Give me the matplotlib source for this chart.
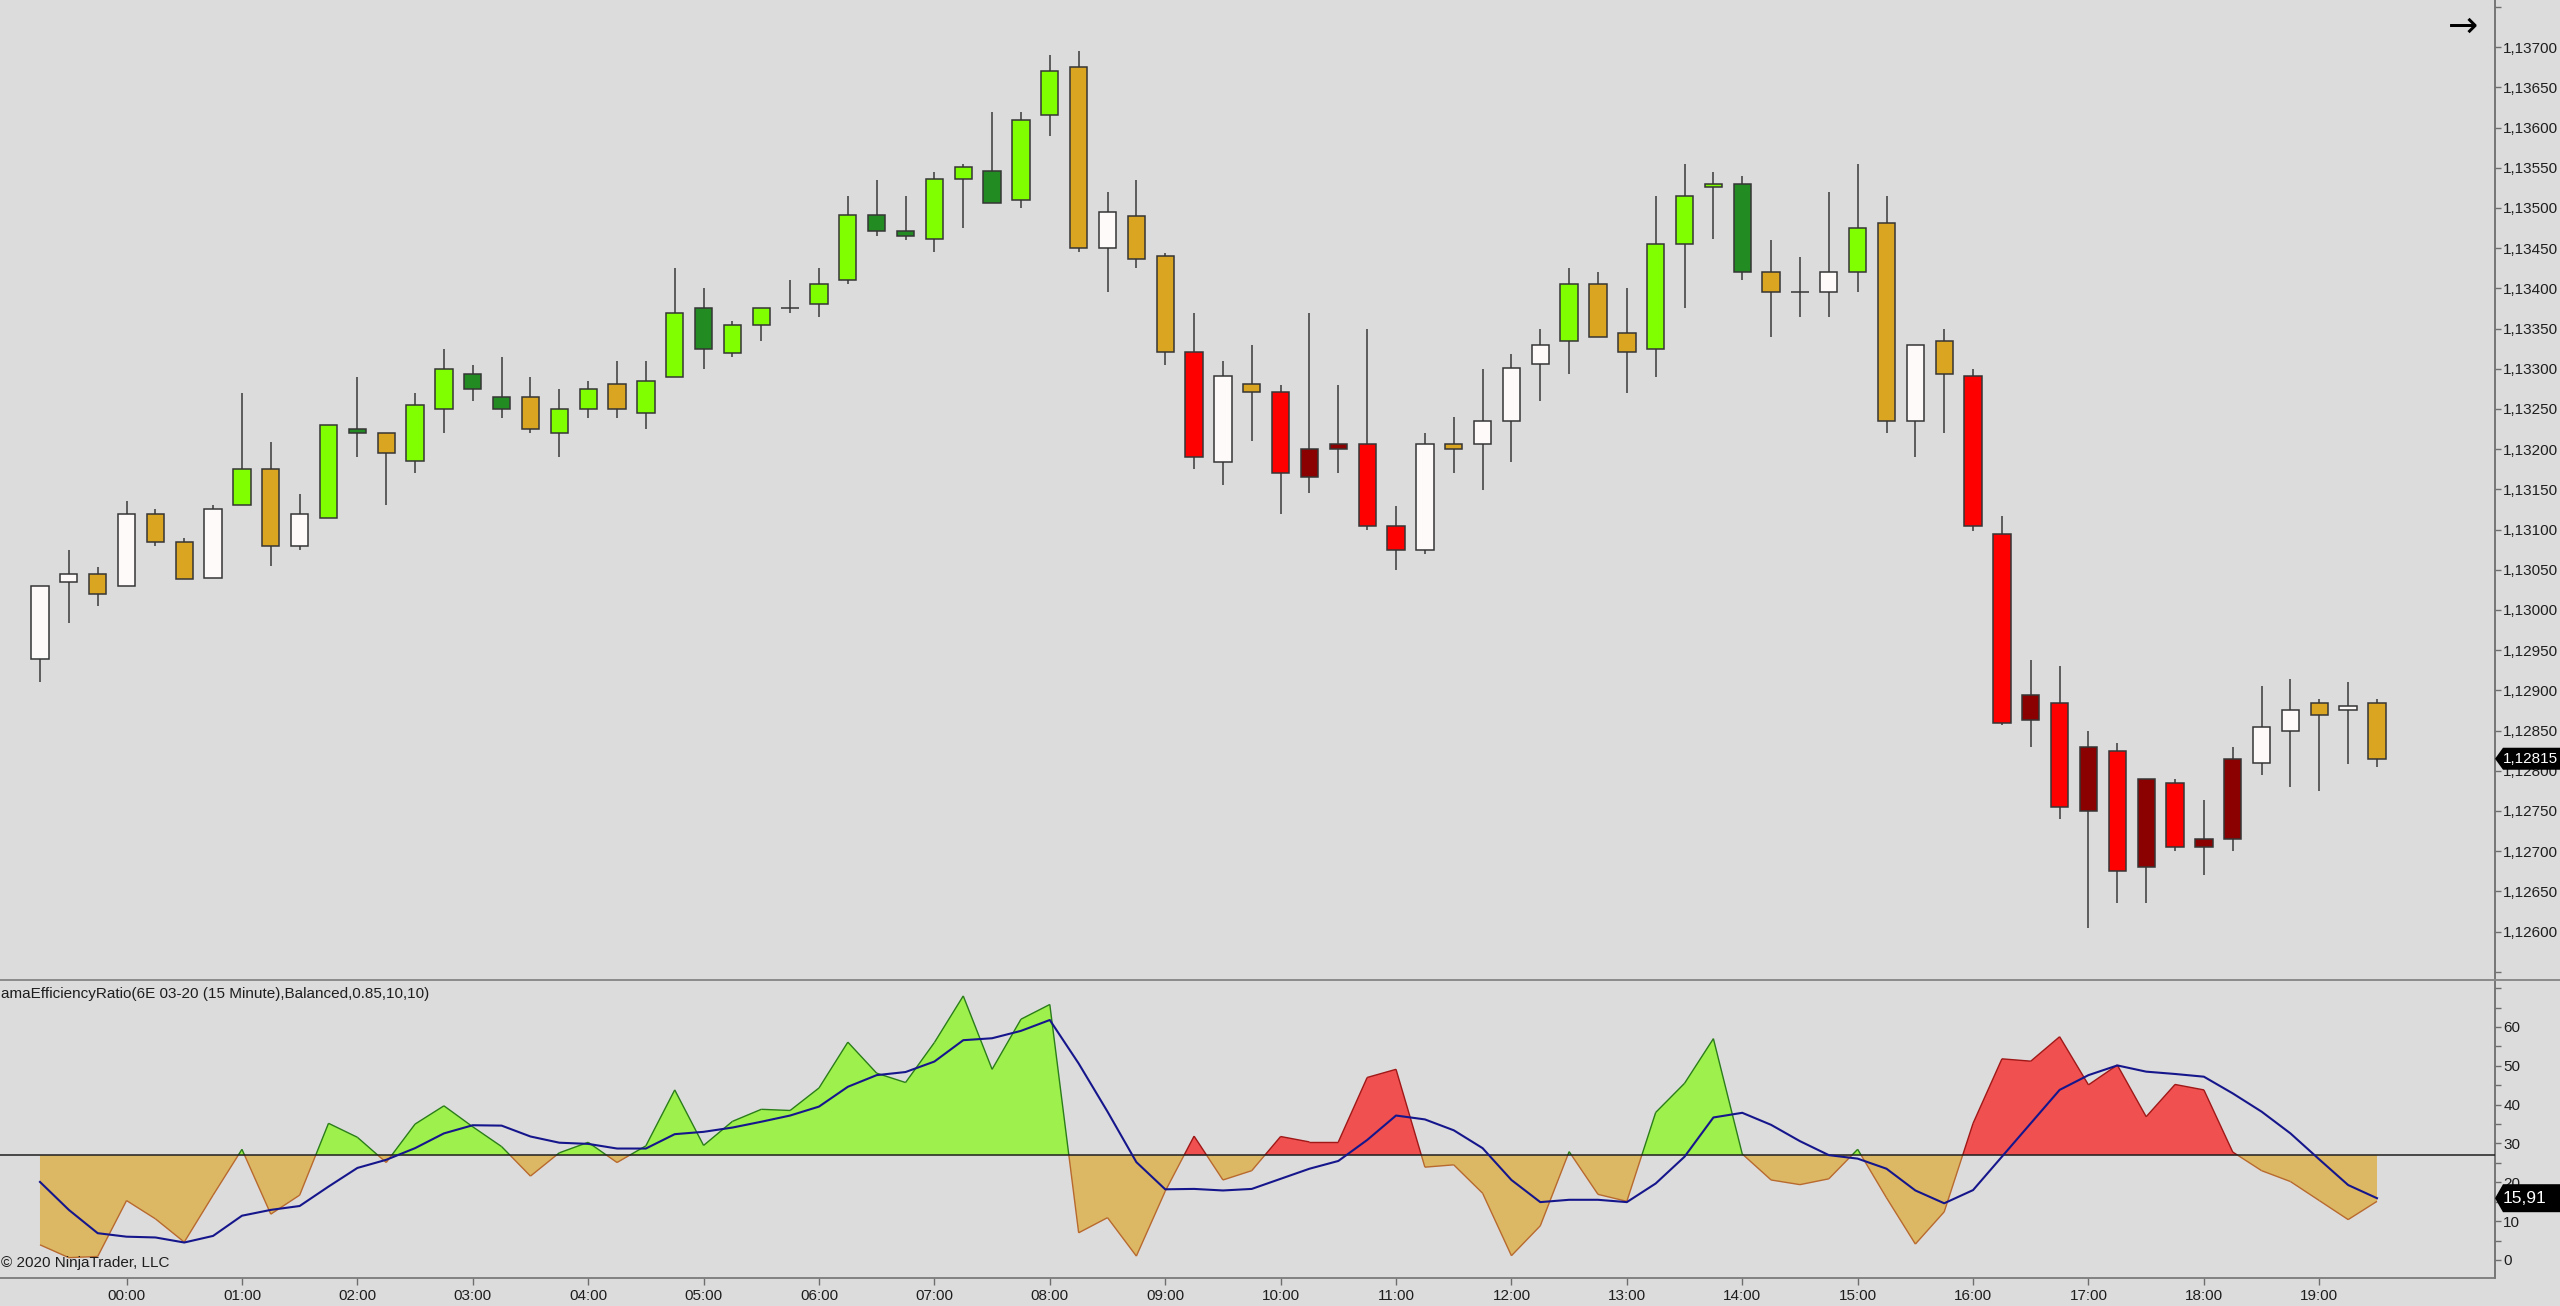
import numpy as np
import pandas as pd
import matplotlib
matplotlib.use('Agg')
import matplotlib.pyplot as plt
from matplotlib.patches import Polygon
from matplotlib.collections import LineCollection
from matplotlib.ticker import FuncFormatter, FixedLocator

plt.rcParams['font.family'] = ['Liberation Sans', 'DejaVu Sans']

# 15 minute bars, 6E 03-20
times = pd.date_range('2020-01-01 23:15', periods=82, freq='15min')

opens = [1.12939, 1.13035, 1.13045, 1.13030, 1.13120, 1.13085, 1.13040, 1.13130, 1.13175, 1.13080,
         1.13115, 1.13225, 1.13220, 1.13185, 1.13250, 1.13294, 1.13265, 1.13265, 1.13220, 1.13250,
         1.13281, 1.13245, 1.13290, 1.13375, 1.13320, 1.13355, 1.13375, 1.13380, 1.13410, 1.13491,
         1.13471, 1.13461, 1.13536, 1.13546, 1.13510, 1.13616, 1.13675, 1.13450, 1.13490, 1.13440,
         1.13321, 1.13184, 1.13281, 1.13271, 1.13165, 1.13200, 1.13206, 1.13105, 1.13075, 1.13206,
         1.13206, 1.13235, 1.13306, 1.13335, 1.13406, 1.13345, 1.13325, 1.13455, 1.13526, 1.13530,
         1.13420, 1.13395, 1.13395, 1.13420, 1.13481, 1.13235, 1.13335, 1.13291, 1.13095, 1.12863,
         1.12884, 1.12750, 1.12825, 1.12680, 1.12785, 1.12705, 1.12715, 1.12810, 1.12850, 1.12884,
         1.12875, 1.12884]
highs = [1.13030, 1.13075, 1.13054, 1.13135, 1.13125, 1.13089, 1.13130, 1.13270, 1.13209, 1.13144,
         1.13230, 1.13290, 1.13220, 1.13270, 1.13325, 1.13305, 1.13315, 1.13290, 1.13275, 1.13285,
         1.13310, 1.13310, 1.13425, 1.13400, 1.13360, 1.13375, 1.13410, 1.13425, 1.13515, 1.13535,
         1.13515, 1.13545, 1.13555, 1.13620, 1.13620, 1.13690, 1.13695, 1.13520, 1.13535, 1.13444,
         1.13370, 1.13310, 1.13330, 1.13280, 1.13370, 1.13280, 1.13350, 1.13129, 1.13220, 1.13240,
         1.13300, 1.13319, 1.13350, 1.13425, 1.13420, 1.13400, 1.13515, 1.13555, 1.13545, 1.13540,
         1.13460, 1.13439, 1.13520, 1.13555, 1.13515, 1.13330, 1.13350, 1.13300, 1.13117, 1.12938,
         1.12930, 1.12850, 1.12834, 1.12790, 1.12790, 1.12764, 1.12829, 1.12905, 1.12914, 1.12889,
         1.12910, 1.12889]
lows = [1.12910, 1.12984, 1.13005, 1.13030, 1.13080, 1.13039, 1.13040, 1.13130, 1.13055, 1.13075,
        1.13115, 1.13190, 1.13130, 1.13170, 1.13220, 1.13260, 1.13239, 1.13220, 1.13190, 1.13239,
        1.13239, 1.13225, 1.13290, 1.13300, 1.13315, 1.13335, 1.13370, 1.13365, 1.13405, 1.13465,
        1.13460, 1.13445, 1.13475, 1.13506, 1.13500, 1.13590, 1.13445, 1.13395, 1.13425, 1.13305,
        1.13175, 1.13155, 1.13210, 1.13120, 1.13145, 1.13170, 1.13100, 1.13050, 1.13070, 1.13170,
        1.13149, 1.13184, 1.13260, 1.13294, 1.13340, 1.13270, 1.13290, 1.13375, 1.13461, 1.13410,
        1.13340, 1.13365, 1.13365, 1.13395, 1.13220, 1.13190, 1.13220, 1.13098, 1.12857, 1.12829,
        1.12740, 1.12605, 1.12635, 1.12635, 1.12700, 1.12670, 1.12700, 1.12795, 1.12780, 1.12775,
        1.12809, 1.12805]
closes = [1.13030, 1.13045, 1.13020, 1.13120, 1.13085, 1.13039, 1.13125, 1.13175, 1.13080, 1.13120,
          1.13230, 1.13220, 1.13195, 1.13255, 1.13300, 1.13275, 1.13250, 1.13225, 1.13250, 1.13275,
          1.13250, 1.13285, 1.13370, 1.13325, 1.13355, 1.13375, 1.13375, 1.13406, 1.13491, 1.13471,
          1.13465, 1.13536, 1.13551, 1.13506, 1.13610, 1.13671, 1.13450, 1.13495, 1.13436, 1.13321,
          1.13190, 1.13291, 1.13271, 1.13170, 1.13200, 1.13206, 1.13105, 1.13075, 1.13206, 1.13200,
          1.13235, 1.13301, 1.13330, 1.13406, 1.13340, 1.13321, 1.13455, 1.13515, 1.13530, 1.13420,
          1.13395, 1.13395, 1.13420, 1.13475, 1.13235, 1.13330, 1.13294, 1.13105, 1.12860, 1.12894,
          1.12755, 1.12829, 1.12675, 1.12790, 1.12705, 1.12715, 1.12815, 1.12855, 1.12875, 1.12870,
          1.12880, 1.12815]

# efficiency ratio and its smoothed line
er = [3.9, 0.6, 0.9, 15.3, 10.6, 4.6, 16.7, 28.5, 11.8, 16.7,
      35.2, 31.6, 25.1, 35.0, 39.7, 34.3, 29.2, 21.6, 27.6, 30.3,
      25.1, 29.4, 43.8, 29.5, 35.7, 38.8, 38.5, 44.3, 56.1, 48.1,
      45.7, 56.0, 68.0, 49.1, 62.0, 65.8, 7.0, 10.9, 1.0, 17.7,
      31.9, 20.6, 23.0, 31.8, 30.4, 30.4, 47.0, 49.1, 23.9, 24.5,
      17.2, 1.1, 8.8, 27.9, 16.9, 15.1, 38.0, 45.5, 57.0, 27.3,
      20.6, 19.4, 20.9, 28.5, 16.0, 4.1, 12.4, 35.2, 51.8, 51.2,
      57.5, 45.1, 50.2, 36.9, 45.2, 43.8, 27.8, 23.0, 20.2, 15.3,
      10.4, 15.1]
er_smooth = [20.1, 12.9, 6.9, 6.0, 5.8, 4.5, 6.2, 11.4, 12.9, 13.9,
             18.9, 23.7, 25.8, 28.8, 32.6, 34.7, 34.6, 31.8, 30.2, 29.9,
             28.7, 28.7, 32.4, 33.0, 34.1, 35.6, 37.2, 39.5, 44.6, 47.6,
             48.4, 51.1, 56.6, 57.1, 59.0, 61.8, 50.6, 38.2, 25.2, 18.2,
             18.3, 17.9, 18.3, 20.9, 23.5, 25.5, 30.9, 37.2, 36.2, 33.4,
             28.8, 20.6, 14.9, 15.5, 15.5, 14.9, 19.7, 26.6, 36.7, 37.9,
             34.8, 30.6, 27.0, 26.1, 23.5, 17.9, 14.6, 18.0, 26.6, 35.2,
             43.8, 47.6, 50.1, 48.5, 47.9, 47.2, 42.9, 38.2, 32.6, 25.9,
             19.3, 15.91]
# trend direction (1 up, -1 down)
trend = [1] * 40 + [-1] * 13 + [1] * 11 + [-1] * 18
LEVEL = 27

bg = '#dcdcdc'
n = len(closes)
idx = np.arange(n)
o, h, l, c = map(np.array, (opens, highs, lows, closes))
erv = np.array(er)

# candle colours: regime x direction
cols = []
for i in range(n):
    up = c[i] >= o[i]
    if erv[i] >= LEVEL and trend[i] > 0:
        cols.append('#7fff00' if up else '#228b22')
    elif erv[i] >= LEVEL:
        cols.append('#8b0000' if up else '#ff0000')
    else:
        cols.append('#fffafa' if up else '#daa520')

fig = plt.figure(figsize=(25.6, 13.06), dpi=100, facecolor=bg)
W, H = 2560, 1306
ax1 = fig.add_axes([0, (H - 980) / H, 2495 / W, 980 / H], facecolor=bg)
ax2 = fig.add_axes([0, (H - 1278) / H, 2495 / W, 298 / H], facecolor=bg, sharex=ax1)

# price panel
ax1.vlines(idx, l, h, color='#3a3a3a', lw=1.1, zorder=2)
ax1.bar(idx, np.abs(c - o), bottom=np.minimum(o, c), width=0.6, color=cols,
        edgecolor='#353535', linewidth=1.1, zorder=3)
ax1.set_xlim(-1.386, 85.09)
ax1.set_ylim(1.125398, 1.137587)

for ax in (ax1, ax2):
    for s in ('left', 'top'):
        ax.spines[s].set_visible(False)
    ax.spines['right'].set_color('#6e6e6e')
    ax.spines['right'].set_linewidth(1.3)
    ax.yaxis.tick_right()
    ax.tick_params(axis='y', which='both', direction='out', length=4, width=1,
                   color='#6e6e6e', pad=2, labelsize=11, labelcolor='#1e1e1e')
ax1.spines['bottom'].set_visible(False)
ax1.tick_params(axis='x', bottom=False, labelbottom=False)

ax1.yaxis.set_major_locator(FixedLocator(np.round(np.arange(1.126, 1.13701, 0.0005), 5)))
ax1.yaxis.set_minor_locator(FixedLocator([1.1255, 1.1375]))
ax1.yaxis.set_major_formatter(FuncFormatter(lambda v, p: f'{v:.5f}'.replace('.', ',')))

# indicator panel
xd, yd, td = [0.0], [er[0]], [trend[0]]
for i in range(n - 1):
    a, b = er[i] - LEVEL, er[i + 1] - LEVEL
    if a * b < 0:
        xd.append(i + a / (a - b)); yd.append(LEVEL)
        td.append(trend[i] if a > 0 else trend[i + 1])
    xd.append(i + 1.0); yd.append(er[i + 1]); td.append(trend[i + 1])
xd, yd, td = np.array(xd), np.array(yd), np.array(td)

ax2.fill_between(xd, yd, LEVEL, where=(yd >= LEVEL) & (td > 0), color='#9ef04c', lw=0, zorder=1)
ax2.fill_between(xd, yd, LEVEL, where=(yd >= LEVEL) & (td < 0), color='#f05050', lw=0, zorder=1)
ax2.fill_between(xd, yd, LEVEL, where=yd <= LEVEL, color='#dcb864', lw=0, zorder=1)

segs, seg_cols = [], []
for j in range(len(xd) - 1):
    segs.append([(xd[j], yd[j]), (xd[j + 1], yd[j + 1])])
    mid = (yd[j] + yd[j + 1]) / 2
    if mid < LEVEL:
        seg_cols.append('#b8692e')
    elif td[j] > 0:
        seg_cols.append('#2a7d1a')
    else:
        seg_cols.append('#a01818')
ax2.add_collection(LineCollection(segs, colors=seg_cols, linewidths=1.0, zorder=2))
ax2.axhline(LEVEL, color='#1e1e1e', lw=1.1, zorder=3)
ax2.plot(idx, er_smooth, color='#16168c', lw=1.5, zorder=4)

ax2.set_ylim(-4.64, 72.1)
ax2.spines['bottom'].set_color('#7a7a7a')
ax2.spines['bottom'].set_linewidth(1.3)
ax2.yaxis.set_major_locator(FixedLocator(np.arange(0, 61, 10)))
ax2.yaxis.set_minor_locator(FixedLocator([5, 15, 25, 35, 45, 55, 65, 70]))
ax2.yaxis.set_major_formatter(FuncFormatter(lambda v, p: f'{v:.0f}'))

hour_idx = [i for i in range(n) if times[i].minute == 0]
ax2.set_xticks(hour_idx)
ax2.set_xticklabels([times[i].strftime('%H:%M') for i in hour_idx])
ax2.tick_params(axis='x', direction='out', length=5, width=1, color='#6e6e6e',
                pad=3, labelsize=11, labelcolor='#1e1e1e')

# separator between panels across full width
fig.add_artist(plt.Line2D([0, 1], [(H - 980) / H] * 2, color='#8a8a8a', lw=1.4))

# last value markers
def marker(ax, y, txt, px_to_data, half_px, size):
    hh = half_px * px_to_data
    dx = 8 / 2495
    pts = [(1.0, y), (1.0 + dx, y + hh), (2560 / 2495, y + hh), (2560 / 2495, y - hh), (1.0 + dx, y - hh)]
    ax.add_patch(Polygon(pts, closed=True, transform=ax.get_yaxis_transform(),
                         facecolor='black', edgecolor='none', clip_on=False, zorder=10))
    ax.text(1.0 + 8 / 2495, y, txt, transform=ax.get_yaxis_transform(), color='white',
            fontsize=size, va='center', ha='left', clip_on=False, zorder=11)

marker(ax1, closes[-1], f'{closes[-1]:.5f}'.replace('.', ','), 1 / 80400, 11, 11)
marker(ax2, er_smooth[-1], f'{er_smooth[-1]:.2f}'.replace('.', ','), 1 / 3.883, 14, 12.5)

fig.text(0.0005, 1 - 994 / H, 'amaEfficiencyRatio(6E 03-20 (15 Minute),Balanced,0.85,10,10)',
         fontsize=11, color='#1e1e1e', va='center', ha='left')
fig.text(0.0005, 1 - 1263 / H, '\u00a9 2020 NinjaTrader, LLC', fontsize=11,
         color='#1e1e1e', va='center', ha='left')
fig.text(2463 / W, 1 - 27 / H, '\u2192', fontsize=26, color='black', va='center', ha='center',
         family=['DejaVu Sans'])

fig.savefig('out.png', dpi=100, facecolor=bg)
